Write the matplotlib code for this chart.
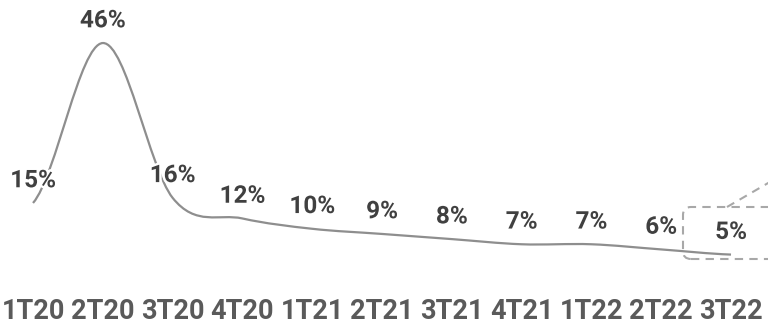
import numpy as np
import matplotlib
matplotlib.use('Agg')
import matplotlib.pyplot as plt
import matplotlib.patheffects as pe
from matplotlib.path import Path
from matplotlib.patches import PathPatch, FancyBboxPatch
from matplotlib.lines import Line2D
from matplotlib.transforms import IdentityTransform

# data
quarters = ['1T20', '2T20', '3T20', '4T20', '1T21', '2T21', '3T21', '4T21', '1T22', '2T22', '3T22']
values = [15, 46, 16, 12, 10, 9, 8, 7, 7, 6, 5]

plt.rcParams['font.family'] = ['Roboto', 'DejaVu Sans']

fig = plt.figure(figsize=(7.68, 3.24), dpi=100)
ax = fig.add_axes([0, 0.105, 1, 0.895])

x = np.arange(len(values), dtype=float)
y = np.array(values, dtype=float)

# smooth curve (catmull-rom as cubic bezier segments)
n = len(x)
m = np.zeros(n)
for i in range(n):
    if i == 0:
        m[i] = (y[1] - y[0]) / 2
    elif i == n - 1:
        m[i] = (y[-1] - y[-2]) / 2
    else:
        m[i] = (y[i + 1] - y[i - 1]) / 2
verts = [(x[0], y[0])]
codes = [Path.MOVETO]
for i in range(n - 1):
    verts += [(x[i] + 1 / 3, y[i] + m[i] / 3),
              (x[i + 1] - 1 / 3, y[i + 1] - m[i + 1] / 3),
              (x[i + 1], y[i + 1])]
    codes += [Path.CURVE4] * 3
ax.add_patch(PathPatch(Path(verts, codes), fill=False, edgecolor='#8e8e8e', lw=1.6))

for xi, v in zip(x, values):
    ax.annotate(f'{v}%', (xi, v), xytext=(0, 16), textcoords='offset points',
                ha='center', va='center', fontsize=17.5, fontweight='bold', color='#404040',
                path_effects=[pe.withStroke(linewidth=3.5, foreground='white')])

ax.set_xlim(-0.473, 10.53)
ax.set_ylim(-1.86, 54.34)
ax.set_xticks(x)
ax.set_xticklabels(quarters, fontsize=19.5, fontweight='bold', color='#5a5a5a')
ax.tick_params(axis='x', length=0, pad=6)
ax.set_yticks([])
for s in ax.spines.values():
    s.set_visible(False)

# dashed highlight box around last quarter (pixel coords)
px = IdentityTransform()
box = FancyBboxPatch((683, 65), 110, 52,
                     boxstyle='round,pad=0,rounding_size=8',
                     transform=px, fill=False, edgecolor='#a8a8a8',
                     lw=1.5, ls=(0, (4, 3)), clip_on=False)
fig.patches.append(box)
fig.lines.append(Line2D([727, 775], [117, 145], transform=px, color='#a8a8a8',
                        lw=1.5, ls=(0, (4, 3))))

fig.savefig('out.png', dpi=100)
